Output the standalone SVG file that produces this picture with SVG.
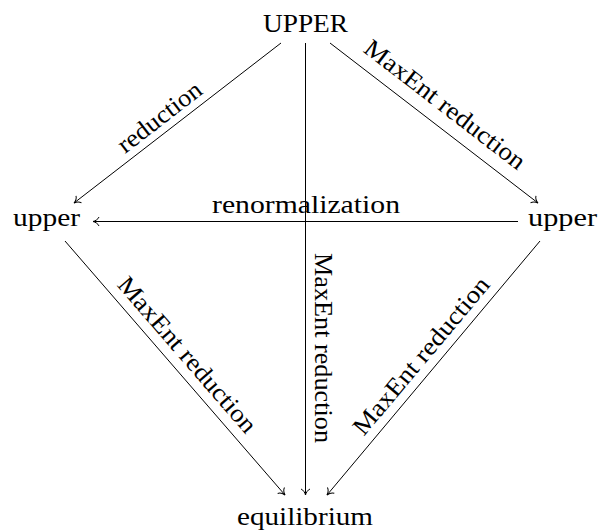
<svg xmlns="http://www.w3.org/2000/svg" width="598" height="530" viewBox="0 0 598 530">
<style>
text{font-family:"Liberation Serif","Times New Roman",serif;font-size:25px;fill:#000}
.n text{font-size:26px}
.c line{stroke:#000;stroke-width:1;fill:none;marker-end:url(#to)}
</style>
<defs>
<marker id="to" markerUnits="userSpaceOnUse" markerWidth="14" markerHeight="14" refX="0" refY="0" viewBox="-8 -7 10 14" orient="auto" overflow="visible">
<path d="M-6,-4.5 C-5,-2 -2,-0.5 0,0 C-2,0.5 -5,2 -6,4.5" fill="none" stroke="#000" stroke-width="1"/>
</marker>
</defs>
<g class="c" id="connectors">
<line x1="281" y1="43" x2="74" y2="203"/>
<line x1="330" y1="43" x2="538" y2="203"/>
<line x1="305.5" y1="43" x2="305.5" y2="495"/>
<line x1="518" y1="221.5" x2="93" y2="221.5"/>
<line x1="65" y1="241" x2="285" y2="495"/>
<line x1="540" y1="241" x2="327" y2="495"/>
<g id="labels">
<text transform="translate(164.5,123.5) rotate(-37.7)" text-anchor="middle" textLength="100" lengthAdjust="spacingAndGlyphs">reduction</text>
<text transform="translate(440,111) rotate(37.6)" text-anchor="middle" textLength="196" lengthAdjust="spacingAndGlyphs">MaxEnt reduction</text>
<text x="306" y="213" text-anchor="middle" textLength="188" lengthAdjust="spacingAndGlyphs">renormalization</text>
<text transform="translate(314.5,348) rotate(90)" text-anchor="middle" textLength="190" lengthAdjust="spacingAndGlyphs">MaxEnt reduction</text>
<text transform="translate(181,360) rotate(49.1)" text-anchor="middle" textLength="198" lengthAdjust="spacingAndGlyphs">MaxEnt reduction</text>
<text transform="translate(427.5,361) rotate(-50)" text-anchor="middle" textLength="198" lengthAdjust="spacingAndGlyphs">MaxEnt reduction</text>
</g>
</g>
<g class="n" id="UPPER"><text x="305.5" y="32" text-anchor="middle" textLength="85" lengthAdjust="spacingAndGlyphs">UPPER</text></g>
<g class="n" id="upper-left"><text x="13" y="226" textLength="67" lengthAdjust="spacingAndGlyphs">upper</text></g>
<g class="n" id="upper-right"><text x="528" y="226" textLength="69" lengthAdjust="spacingAndGlyphs">upper</text></g>
<g class="n" id="equilibrium"><text x="305" y="525" text-anchor="middle" textLength="136" lengthAdjust="spacingAndGlyphs">equilibrium</text></g>
</svg>
